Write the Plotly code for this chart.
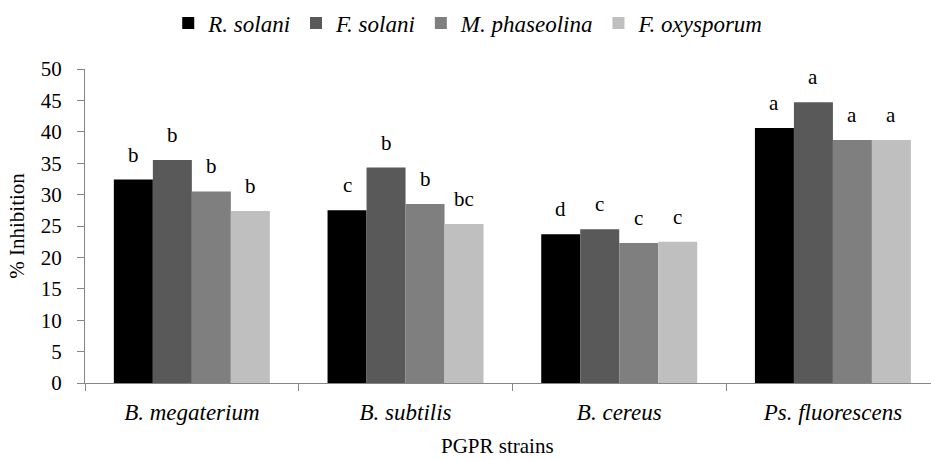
import plotly.graph_objects as go

categories = ["B. megaterium", "B. subtilis", "B. cereus", "Ps. fluorescens"]
series_names = ["R. solani", "F. solani", "M. phaseolina", "F. oxysporum"]
r_solani = [32.4, 27.5, 23.7, 40.6]
f_solani = [35.5, 34.3, 24.5, 44.7]
m_phaseolina = [30.5, 28.5, 22.3, 38.7]
f_oxysporum = [27.4, 25.3, 22.5, 38.7]
letters_r = ["b", "c", "d", "a"]
letters_f = ["b", "b", "c", "a"]
letters_m = ["b", "b", "c", "a"]
letters_o = ["b", "bc", "c", "a"]
x_title = "PGPR strains"
y_title = "% Inhibition"

values = [r_solani, f_solani, m_phaseolina, f_oxysporum]
letters = [letters_r, letters_f, letters_m, letters_o]
colors = ["#000000", "#595959", "#7f7f7f", "#bfbfbf"]

FONT = "Liberation Serif, Times New Roman, serif"
bargap = 0.27
nser = len(values)
bw = (1 - bargap) / nser

fig = go.Figure()
for name, vals, col in zip(series_names, values, colors):
    fig.add_trace(go.Bar(
        x=categories, y=vals, name=name,
        marker=dict(color=col, line=dict(width=0)),
    ))

annotations = []
for i, (vals, labs) in enumerate(zip(values, letters)):
    for j, (v, lab) in enumerate(zip(vals, labs)):
        annotations.append(dict(
            x=j + (i - (nser - 1) / 2) * bw, y=v, xref="x", yref="y",
            text=lab, showarrow=False, yanchor="bottom", yshift=11,
            font=dict(family=FONT, size=21, color="#000000"),
        ))
annotations.append(dict(
    x=0.487, y=-0.2, xref="paper", yref="paper", text=x_title,
    showarrow=False, xanchor="center", yanchor="middle",
    font=dict(family=FONT, size=21, color="#000000"),
))

fig.update_layout(
    width=931, height=460,
    paper_bgcolor="white", plot_bgcolor="white",
    margin=dict(l=85, r=0, t=69, b=77, autoexpand=False),
    barmode="group", bargap=bargap, bargroupgap=0,
    font=dict(family=FONT, size=18, color="#000000"),
    legend=dict(
        orientation="h", xref="paper", x=0.453, xanchor="center",
        yref="paper", y=1.215, yanchor="top",
        font=dict(family=FONT, size=23, style="italic"),
        tracegroupgap=0,
    ),
    annotations=annotations,
    showlegend=True,
)
fig.update_xaxes(
    range=[-0.5, 3.459], automargin=False,
    showline=True, linecolor="#868686", linewidth=1,
    ticks="outside", tickson="boundaries", ticklen=7, tickcolor="#868686",
    tickfont=dict(family=FONT, size=23, style="italic"),
    ticklabelstandoff=8,
    showgrid=False,
)
fig.update_yaxes(
    range=[0, 50], tickvals=list(range(0, 51, 5)), automargin=False,
    showline=True, linecolor="#868686", linewidth=1,
    ticks="outside", ticklen=7, tickcolor="#868686",
    tickfont=dict(family=FONT, size=21),
    ticklabelstandoff=11,
    title=dict(text=y_title, font=dict(family=FONT, size=21), standoff=10),
    showgrid=False, zeroline=False,
)

fig.write_html(
    "out.html",
    config={"displayModeBar": False},
    post_script="document.body.style.margin='0';document.body.style.overflow='hidden';",
)
